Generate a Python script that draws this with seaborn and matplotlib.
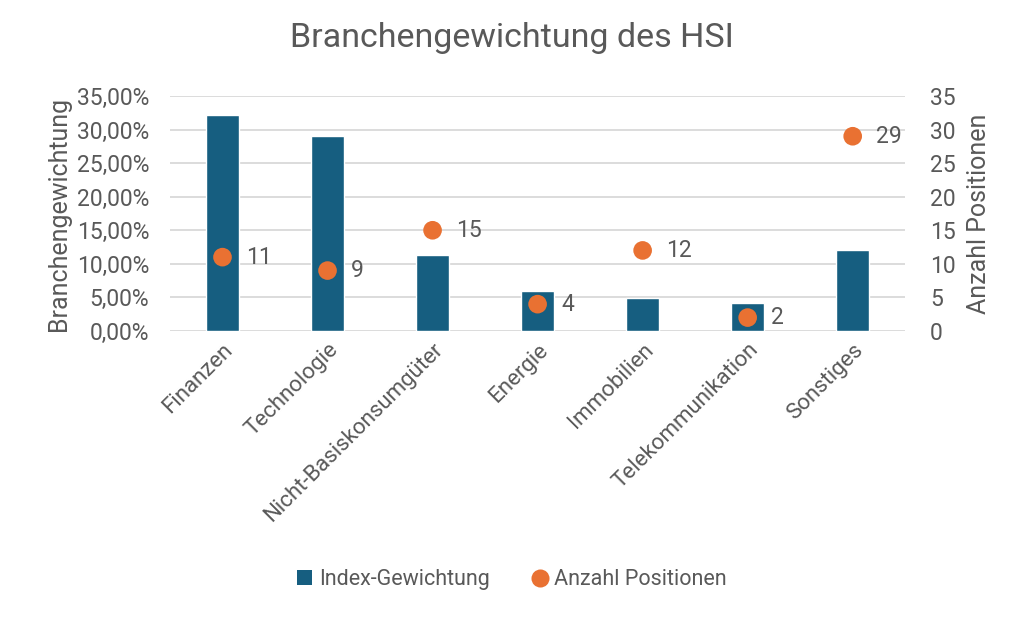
import numpy as np
import pandas as pd
import matplotlib
matplotlib.use("Agg")
import matplotlib.pyplot as plt
import seaborn as sns
from matplotlib.ticker import FuncFormatter
from matplotlib.lines import Line2D
from matplotlib.patches import Patch

# Daten
branchen = ["Finanzen", "Technologie", "Nicht-Basiskonsumgüter", "Energie",
            "Immobilien", "Telekommunikation", "Sonstiges"]
gewichtung = [32.2, 29.0, 11.3, 5.9, 4.9, 4.1, 12.0]  # in %
positionen = [11, 9, 15, 4, 12, 2, 29]

BLAU = "#165E80"
ORANGE = "#E97132"
GRAU = "#595959"

sns.set_theme(style="white")
plt.rcParams["font.family"] = ["Roboto", "DejaVu Sans"]

df = pd.DataFrame({"Branche": branchen, "Gewichtung": gewichtung, "Positionen": positionen})

fig = plt.figure(figsize=(10.24, 6.17), dpi=100)
ax = fig.add_axes([0.166, 0.4635, 0.718, 0.381])

sns.barplot(data=df, x="Branche", y="Gewichtung", color=BLAU, width=0.31,
            saturation=1, ax=ax, zorder=2)
ax.set_ylim(0, 35)
ax.set_yticks(np.arange(0, 36, 5))
ax.yaxis.set_major_formatter(FuncFormatter(lambda v, p: f"{v:.2f}%".replace(".", ",")))
ax.grid(axis="y", color="#D9D9D9", linewidth=1.3, zorder=0)
ax.set_axisbelow(True)
for s in ax.spines.values():
    s.set_visible(False)
ax.tick_params(axis="y", length=0, labelsize=16.5, labelcolor=GRAU, pad=15)
ax.tick_params(axis="x", length=0, labelsize=16, labelcolor=GRAU, pad=6)
ax.set_xticks(range(len(branchen)))
ax.set_xticklabels(branchen, rotation=45, ha="right", rotation_mode="anchor")
ax.set_xlabel("")
ax.set_ylabel("Branchengewichtung", fontsize=18, color=GRAU, labelpad=4)
ax.set_xlim(-0.5, len(branchen) - 0.5)

ax2 = ax.twinx()
sns.scatterplot(x=np.arange(len(branchen)), y=positionen, color=ORANGE, s=180,
                edgecolor="none", ax=ax2, zorder=3)
ax2.set_ylim(0, 35)
ax2.set_yticks(np.arange(0, 36, 5))
for s in ax2.spines.values():
    s.set_visible(False)
ax2.tick_params(axis="y", length=0, labelsize=16.5, labelcolor=GRAU, pad=18)
ax2.set_ylabel("Anzahl Positionen", fontsize=18, color=GRAU, labelpad=8)
for i, v in enumerate(positionen):
    ax2.annotate(str(v), (i, v), xytext=(17, 0), textcoords="offset points",
                 va="center", ha="left", fontsize=16.5, color=GRAU)

fig.suptitle("Branchengewichtung des HSI", fontsize=24.5, color=GRAU, y=0.965)

handles = [Patch(facecolor=BLAU, edgecolor="none", label="Index-Gewichtung"),
           Line2D([0], [0], marker="o", linestyle="none", markerfacecolor=ORANGE,
                  markeredgecolor="none", markersize=13, label="Anzahl Positionen")]
fig.legend(handles=handles, loc="center", bbox_to_anchor=(0.5, 0.06), ncol=2,
           frameon=False, fontsize=15.5, labelcolor=GRAU, handlelength=0.7,
           handletextpad=0.3, columnspacing=2.0)

fig.savefig("out.png", dpi=100)
